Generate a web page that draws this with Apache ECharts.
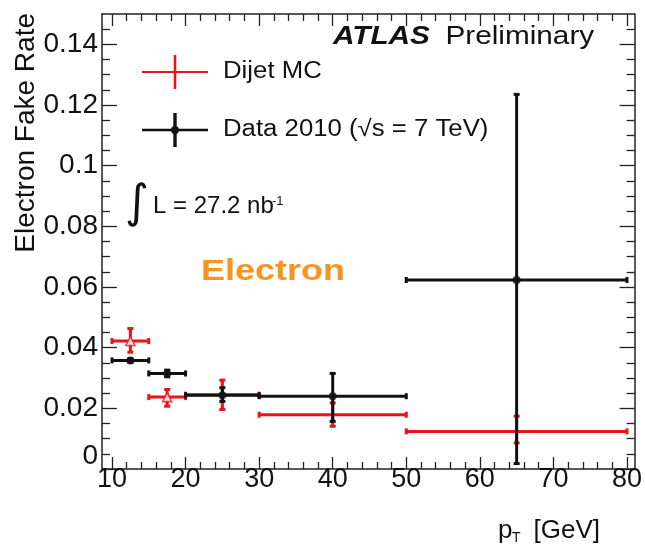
<!DOCTYPE html>
<html>
<head>
<meta charset="utf-8">
<script src="https://cdn.jsdelivr.net/npm/echarts@6/dist/echarts.min.js"></script>
<style>
html,body{margin:0;padding:0;background:#fff;}
#chart{width:645px;height:547px;}
</style>
</head>
<body>
<div id="chart"></div>
<script>
// ---- data ----
const binCenters = [12.5, 17.5, 25, 40, 65];
const binLow     = [10, 15, 20, 30, 50];
const binHigh    = [15, 20, 30, 50, 80];

// Dijet MC (red)
const mcRate     = [0.0422, 0.0237, 0.0245, 0.0179, 0.0124];
const mcErrLow   = [0.0385, 0.0207, 0.0196, 0.0141, 0.0086];
const mcErrHigh  = [0.0463, 0.0262, 0.0293, 0.0218, 0.0174];
const mcMarker   = [true, true, false, false, false];

// Data 2010 (black)
const dataRate    = [0.0358, 0.0315, 0.0243, 0.0240, 0.0623];
const dataErrLow  = [0.0352, 0.0304, 0.0223, 0.0157, 0.0018];
const dataErrHigh = [0.0364, 0.0326, 0.0268, 0.0315, 0.1235];

// axes ticks
const xTickLabels = [10, 20, 30, 40, 50, 60, 70, 80];
const xMinorTicks = [12, 14, 16, 18, 22, 24, 26, 28, 32, 34, 36, 38, 42, 44, 46, 48,
                     52, 54, 56, 58, 62, 64, 66, 68, 72, 74, 76, 78];
const yTickLabels = [0, 0.02, 0.04, 0.06, 0.08, 0.1, 0.12, 0.14];
const yMinorTicks = [0.005, 0.01, 0.015, 0.025, 0.03, 0.035, 0.045, 0.05, 0.055,
                     0.065, 0.07, 0.075, 0.085, 0.09, 0.095, 0.105, 0.11, 0.115,
                     0.125, 0.13, 0.135, 0.145];

const X_MIN = 8.64, X_MAX = 81.04, Y_MIN = 0, Y_MAX = 0.15;
const FONT = '"Liberation Sans", Arial, sans-serif';
const RED = '#e8131b';
const BLACK = '#111';

// ---- helpers ----
function xAxisDef(pos, vals, len, showLabel, showLine) {
  return {
    type: 'value', gridIndex: 0, position: pos, min: X_MIN, max: X_MAX,
    axisLine: { show: showLine, onZero: false, lineStyle: { color: '#222', width: 1.5 } },
    axisTick: { show: true, inside: true, length: len, customValues: vals,
                lineStyle: { color: '#222', width: 1.3 } },
    axisLabel: { show: showLabel, customValues: vals, fontFamily: FONT, fontSize: 27,
                 color: '#111', margin: -3 },
    splitLine: { show: false }
  };
}
function yAxisDef(pos, vals, len, showLabel, showLine) {
  return {
    type: 'value', gridIndex: 0, position: pos, min: Y_MIN, max: Y_MAX,
    axisLine: { show: showLine, onZero: false, lineStyle: { color: '#222', width: 1.5 } },
    axisTick: { show: true, inside: true, length: len, customValues: vals,
                lineStyle: { color: '#222', width: 1.3 } },
    axisLabel: { show: showLabel, customValues: vals, fontFamily: FONT, fontSize: 28,
                 color: '#111', margin: 4,
                 formatter: function (v) { return v === 0 ? '{z|0}' : String(v); },
                 rich: { z: { fontFamily: FONT, fontSize: 28, color: '#111', padding: [0, 0, 26, 0] } } },
    splitLine: { show: false }
  };
}

function errorBars(color, lw, cap) {
  return function (params, api) {
    const x = api.value(0), y = api.value(1);
    const c = api.coord([x, y]);
    const l = api.coord([api.value(2), y]);
    const r = api.coord([api.value(3), y]);
    const b = api.coord([x, api.value(4)]);
    const t = api.coord([x, api.value(5)]);
    const st = { stroke: color, lineWidth: lw };
    return {
      type: 'group',
      children: [
        { type: 'line', shape: { x1: l[0], y1: c[1], x2: r[0], y2: c[1] }, style: st },
        { type: 'line', shape: { x1: c[0], y1: t[1], x2: c[0], y2: b[1] }, style: st },
        { type: 'line', shape: { x1: l[0], y1: c[1] - cap, x2: l[0], y2: c[1] + cap }, style: st },
        { type: 'line', shape: { x1: r[0], y1: c[1] - cap, x2: r[0], y2: c[1] + cap }, style: st },
        { type: 'line', shape: { x1: c[0] - cap, y1: t[1], x2: c[0] + cap, y2: t[1] }, style: st },
        { type: 'line', shape: { x1: c[0] - cap, y1: b[1], x2: c[0] + cap, y2: b[1] }, style: st }
      ]
    };
  };
}

const mcTable = binCenters.map((x, i) => [x, mcRate[i], binLow[i], binHigh[i], mcErrLow[i], mcErrHigh[i]]);
const dataTable = binCenters.map((x, i) => [x, dataRate[i], binLow[i], binHigh[i], dataErrLow[i], dataErrHigh[i]]);
const mcMarkers = binCenters.map((x, i) => [x, mcRate[i]]).filter((p, i) => mcMarker[i]);
const dataMarkers = binCenters.map((x, i) => [x, dataRate[i]]);

const chart = echarts.init(document.getElementById('chart'), null, { renderer: 'canvas' });
chart.setOption({
  backgroundColor: '#fff',
  animation: false,
  grid: { left: 102, right: 10, top: 14, bottom: 78, containLabel: false },
  xAxis: [
    xAxisDef('bottom', xTickLabels, 12, true, true),
    xAxisDef('bottom', xMinorTicks, 7, false, false),
    xAxisDef('top', xTickLabels, 12, false, true),
    xAxisDef('top', xMinorTicks, 7, false, false)
  ],
  yAxis: [
    yAxisDef('left', yTickLabels, 15, true, true),
    yAxisDef('left', yMinorTicks, 8, false, false),
    yAxisDef('right', yTickLabels, 15, false, true),
    yAxisDef('right', yMinorTicks, 8, false, false)
  ],
  series: [
    { name: 'Dijet MC', type: 'custom', xAxisIndex: 0, yAxisIndex: 0, z: 2,
      renderItem: errorBars(RED, 3, 3), data: mcTable, clip: false,
      encode: { x: [0, 2, 3], y: [1, 4, 5] } },
    { name: 'Dijet MC markers', type: 'scatter', xAxisIndex: 0, yAxisIndex: 0, z: 3,
      symbol: 'triangle', symbolSize: 9, data: mcMarkers,
      itemStyle: { color: '#fff', borderColor: RED, borderWidth: 1.6 } },
    { name: 'Data 2010', type: 'custom', xAxisIndex: 0, yAxisIndex: 0, z: 4,
      renderItem: errorBars(BLACK, 3, 3), data: dataTable, clip: false,
      encode: { x: [0, 2, 3], y: [1, 4, 5] } },
    { name: 'Data 2010 markers', type: 'scatter', xAxisIndex: 0, yAxisIndex: 0, z: 5,
      symbol: 'circle', symbolSize: 8, data: dataMarkers,
      itemStyle: { color: BLACK } }
  ],
  graphic: [
    // y axis title
    { type: 'text', x: 26, y: 13, rotation: Math.PI / 2, z: 10,
      style: { text: 'Electron Fake Rate', font: '28px ' + FONT, fill: '#111',
               align: 'right', verticalAlign: 'middle' } },
    // x axis title
    { type: 'text', x: 498, y: 531, z: 10,
      style: { text: 'p', font: '26px ' + FONT, fill: '#111', align: 'left', verticalAlign: 'middle' } },
    { type: 'text', x: 512, y: 538, z: 10,
      style: { text: 'T', font: '14px ' + FONT, fill: '#111', align: 'left', verticalAlign: 'middle' } },
    { type: 'text', x: 600, y: 531, z: 10,
      style: { text: '[GeV]', font: '26px ' + FONT, fill: '#111', align: 'right', verticalAlign: 'middle' } },
    // ATLAS Preliminary
    { type: 'text', x: 333, y: 37, scaleX: 1.19, z: 10,
      style: { text: '{a|ATLAS}{p|Preliminary}', align: 'left', verticalAlign: 'middle',
               rich: { a: { font: 'italic bold 25px ' + FONT, fill: '#111' },
                       p: { font: '25px ' + FONT, fill: '#111', padding: [0, 0, 0, 13] } } } },
    // legend: Dijet MC
    { type: 'line', z: 10, shape: { x1: 142, y1: 72, x2: 208, y2: 72 }, style: { stroke: RED, lineWidth: 2 } },
    { type: 'line', z: 10, shape: { x1: 175, y1: 55, x2: 175, y2: 89 }, style: { stroke: RED, lineWidth: 2.6 } },
    { type: 'text', x: 223, y: 72, scaleX: 1.12, z: 10,
      style: { text: 'Dijet MC', font: '23px ' + FONT, fill: '#111', align: 'left', verticalAlign: 'middle' } },
    // legend: Data 2010
    { type: 'line', z: 10, shape: { x1: 142, y1: 130, x2: 208, y2: 130 }, style: { stroke: BLACK, lineWidth: 2.5 } },
    { type: 'line', z: 10, shape: { x1: 175, y1: 113, x2: 175, y2: 147 }, style: { stroke: BLACK, lineWidth: 3.4 } },
    { type: 'circle', z: 10, shape: { cx: 175, cy: 130, r: 4 }, style: { fill: BLACK } },
    { type: 'text', x: 223, y: 130, scaleX: 1.12, z: 10,
      style: { text: 'Data 2010 (\u221As = 7 TeV)', font: '23px ' + FONT, fill: '#111', align: 'left', verticalAlign: 'middle' } },
    // luminosity
    { type: 'text', x: 137, y: 205, z: 10,
      style: { text: '\u222B', font: '46px "DejaVu Sans", sans-serif', fill: '#111', align: 'center', verticalAlign: 'middle' } },
    { type: 'text', x: 153, y: 206, z: 10,
      style: { text: 'L = 27.2 nb', font: '24px ' + FONT, fill: '#111', align: 'left', verticalAlign: 'middle' } },
    { type: 'text', x: 272, y: 201, z: 10,
      style: { text: '-1', font: '13px ' + FONT, fill: '#111', align: 'left', verticalAlign: 'middle' } },
    // Electron label
    { type: 'text', x: 201, y: 272, scaleX: 1.2, z: 10,
      style: { text: 'Electron', font: 'bold 30px ' + FONT, fill: '#f7941d', align: 'left', verticalAlign: 'middle' } }
  ]
});
</script>
</body>
</html>
